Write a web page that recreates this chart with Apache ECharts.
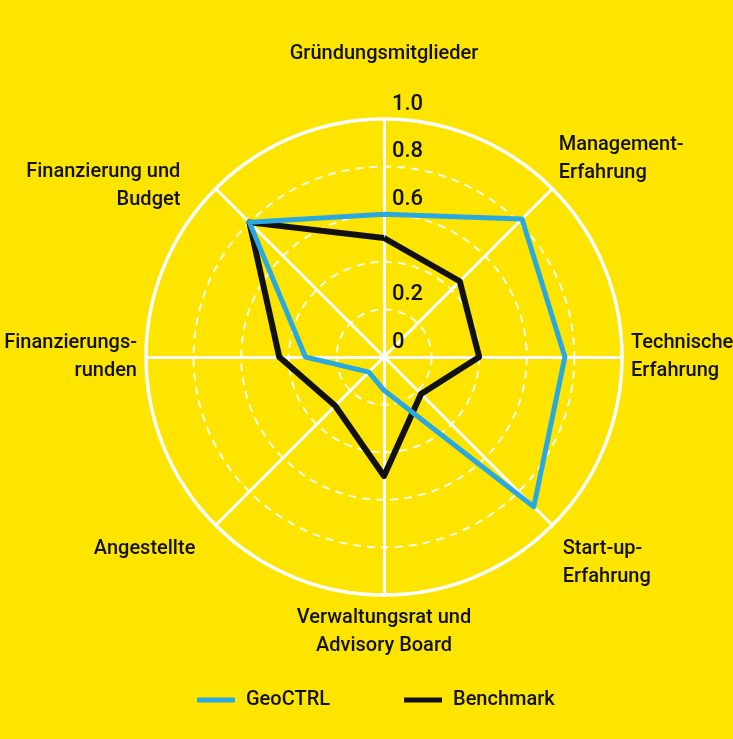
<!DOCTYPE html>
<html><head><meta charset="utf-8">
<script src="https://cdn.jsdelivr.net/npm/echarts@6/dist/echarts.min.js"></script>
<style>html,body{margin:0;padding:0;background:#FDE500;}#c{width:733px;height:739px;}</style>
</head><body><div id="c"></div>
<script>
const indicatorNames = ['Gründungsmitglieder', 'Finanzierung und\nBudget', 'Finanzierungs-\nrunden', 'Angestellte', 'Verwaltungsrat und\nAdvisory Board', 'Start-up-\nErfahrung', 'Technische\nErfahrung', 'Management-\nErfahrung'];
const geoCTRL = [0.6, 0.8, 0.33, 0.09, 0.14, 0.89, 0.76, 0.82];
const benchmark = [0.5, 0.8, 0.44, 0.29, 0.5, 0.22, 0.4, 0.45];
const seriesNames = ['GeoCTRL', 'Benchmark'];
const tickLabels = {'0': '0', '0.2': '0.2', '0.4': '', '0.6': '0.6', '0.8': '0.8', '1': '1.0'};

const FONT = "Roboto, 'Liberation Sans', sans-serif";
const FW = 500;
const FS = 20;
const richKeys = ['t', 'ul', 'l', 'll', 'b', 'lr', 'r', 'ur'];
const base = {fontFamily: FONT, fontWeight: FW, fontSize: FS, color: '#111', lineHeight: 28};
// label nudges: token padding [top,right,bottom,left]; spacer lines above/below (multi-line only)
const nudge = {
  t: {pad: [0, 0, 29, 0], above: 0, below: 0},
  ul: {pad: [0, 29, 0, 0], above: 8, below: 0},
  l: {pad: [0, 0, 0, 0], above: 0, below: 0},
  ll: {pad: [34, 14, 0, 0], above: 0, below: 0},
  b: {pad: [0, 0, 0, 0], above: 0, below: 0},
  lr: {pad: [0, 0, 0, 4], above: 62, below: 0},
  r: {pad: [0, 0, 0, 0], above: 0, below: 0},
  ur: {pad: [0, 0, 0, 0], above: 0, below: 46}
};
const rich = {};
Object.keys(nudge).forEach(k => {
  rich[k] = Object.assign({}, base, {padding: nudge[k].pad});
  rich[k + 'A'] = {fontSize: 1, lineHeight: nudge[k].above};
  rich[k + 'B'] = {fontSize: 1, lineHeight: nudge[k].below};
});

const chart = echarts.init(document.getElementById('c'));
chart.setOption({
  backgroundColor: '#FDE500',
  legend: {
    data: seriesNames,
    bottom: 24,
    left: 192,
    icon: 'rect',
    itemWidth: 38,
    itemHeight: 5,
    itemGap: 74,
    textStyle: {fontFamily: FONT, fontWeight: FW, fontSize: FS, color: '#111', padding: [0, 0, 0, 6]}
  },
  radar: [{
    center: [384, 357],
    radius: 238,
    shape: 'circle',
    splitNumber: 5,
    indicator: indicatorNames.map((n, i) => i === 0
      ? {name: n, min: 0, max: 1, axisLabel: {show: true}}
      : {name: n, min: 0, max: 1}),
    axisName: {
      formatter: function (name) {
        const idx = indicatorNames.indexOf(name);
        const k = richKeys[idx];
        const lines = name.split('\n').map(s => '{' + k + '|' + s + '}');
        if (nudge[k].above) lines.unshift('{' + k + 'A| }');
        if (nudge[k].below) lines.push('{' + k + 'B| }');
        return lines.join('\n');
      },
      rich: rich
    },
    nameGap: 9,
    axisLine: {lineStyle: {color: '#fff', width: 3}},
    splitLine: {lineStyle: {color: 'rgba(255,255,255,0.9)', width: 2, type: [8, 6]}},
    splitArea: {show: false},
    axisTick: {show: false},
    axisLabel: {
      show: false,
      color: '#111',
      fontFamily: FONT,
      fontWeight: FW,
      fontSize: 22,
      margin: -8,
      align: 'left',
      verticalAlign: 'bottom',
      padding: [0, 0, 4, 0],
      formatter: function (v) {
        const key = String(Math.round(v * 10) / 10);
        return tickLabels[key] !== undefined ? tickLabels[key] : String(v);
      }
    }
  }, {
    center: [384, 357],
    radius: 238,
    shape: 'circle',
    splitNumber: 1,
    silent: true,
    indicator: indicatorNames.map(() => ({name: '', min: 0, max: 1})),
    axisName: {show: false},
    axisLine: {show: false},
    splitLine: {lineStyle: {color: '#fff', width: 3.5}},
    splitArea: {show: false},
    axisTick: {show: false},
    axisLabel: {show: false}
  }],
  series: [{
    type: 'radar',
    radarIndex: 0,
    symbol: 'none',
    data: [
      {name: seriesNames[1], value: benchmark, lineStyle: {color: '#111', width: 6}, itemStyle: {color: '#111'}},
      {name: seriesNames[0], value: geoCTRL, lineStyle: {color: '#2AA9E0', width: 5}, itemStyle: {color: '#2AA9E0'}}
    ]
  }]
});
</script>
</body></html>
